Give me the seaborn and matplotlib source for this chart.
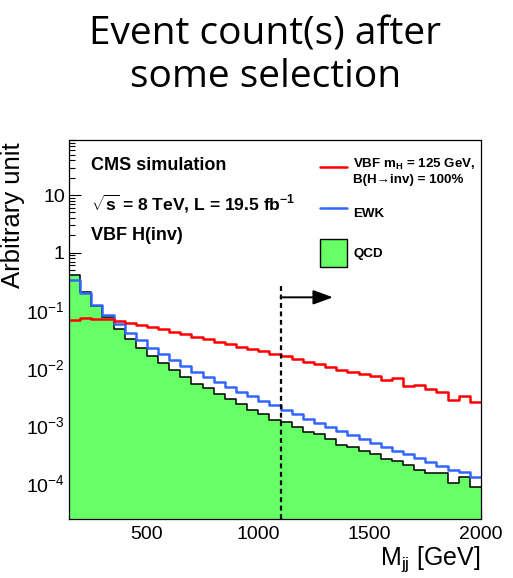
import numpy as np
import pandas as pd
import matplotlib
matplotlib.use("Agg")
import matplotlib.pyplot as plt
import seaborn as sns
from matplotlib.ticker import MultipleLocator, LogLocator, FixedLocator, FuncFormatter, NullFormatter
from matplotlib.lines import Line2D
from matplotlib.patches import Patch

# ---------------- data ----------------
bin_edges = list(range(150, 2001, 50))
bin_centers = [(a + b) / 2 for a, b in zip(bin_edges[:-1], bin_edges[1:])]

qcd = [0.41, 0.207, 0.117, 0.0766, 0.048, 0.032, 0.0226, 0.016, 0.012, 0.0092,
       0.0070, 0.0053, 0.0045, 0.0036, 0.0029, 0.0024, 0.0019, 0.00158, 0.00127,
       0.00117, 0.00095, 0.00078, 0.00071, 0.00058, 0.00046, 0.00043, 0.00037,
       0.00032, 0.00026, 0.00024, 0.00021, 0.000173, 0.000152, 0.000148,
       0.000102, 0.000129, 0.000085]
ewk = [0.33, 0.20, 0.125, 0.084, 0.059, 0.041, 0.030, 0.0226, 0.0178, 0.0136,
       0.0107, 0.0085, 0.0070, 0.0057, 0.0047, 0.0038, 0.0032, 0.0027, 0.0023,
       0.00185, 0.00158, 0.00132, 0.00113, 0.00095, 0.00081, 0.00068, 0.00058,
       0.00049, 0.00043, 0.00036, 0.00032, 0.00027, 0.00023, 0.000197,
       0.000173, 0.000155, 0.000127]
vbf = [0.069, 0.074, 0.0716, 0.070, 0.0645, 0.0612, 0.0565, 0.0514, 0.047, 0.042,
       0.0384, 0.0346, 0.0318, 0.028, 0.0257, 0.0231, 0.0213, 0.0197, 0.0177,
       0.0162, 0.0141, 0.0127, 0.0119, 0.0104, 0.0094, 0.0085, 0.0080, 0.0072,
       0.0063, 0.0066, 0.0049, 0.0050, 0.0044, 0.0039, 0.0028, 0.0032, 0.0026]

y_major_ticks = [1e-4, 1e-3, 1e-2, 1e-1, 1, 10]
series_labels = ["VBF m$_{\\mathbf{H}}$ = 125 GeV,\nB(H\u2192inv) = 100%", "EWK", "QCD"]
cut_value = 1100
arrow_end = 1335
arrow_level = 0.168
cut_top = 0.27

df = pd.DataFrame({"mjj": bin_centers, "qcd": qcd, "ewk": ewk, "vbf": vbf})

# ---------------- style ----------------
sns.set_style("ticks")
plt.rcParams['font.family'] = ['Liberation Sans', 'DejaVu Sans']
plt.rcParams['mathtext.fontset'] = 'custom'
plt.rcParams['mathtext.rm'] = 'Liberation Sans'
plt.rcParams['mathtext.bf'] = 'Liberation Sans:bold'
plt.rcParams['mathtext.it'] = 'Liberation Sans:italic'
plt.rcParams['mathtext.default'] = 'regular'
plt.rcParams['text.color'] = 'black'
plt.rcParams['axes.labelcolor'] = 'black'
plt.rcParams['xtick.color'] = 'black'
plt.rcParams['ytick.color'] = 'black'

GREEN = "#66ff66"
BLUE = "#3366ff"
RED = "#ff0000"

fig = plt.figure(figsize=(5.13, 5.78), dpi=100)
ax = fig.add_axes([69 / 513, 59 / 578, 412 / 513, 379 / 578])
ax.set_yscale('log')

sns.histplot(data=df, x="mjj", weights="qcd", bins=bin_edges, element="step",
             fill=True, color=GREEN, alpha=1, linewidth=0, ax=ax)
sns.histplot(data=df, x="mjj", weights="qcd", bins=bin_edges, element="step",
             fill=False, color="black", linewidth=1.1, ax=ax)
sns.histplot(data=df, x="mjj", weights="ewk", bins=bin_edges, element="step",
             fill=False, color=BLUE, linewidth=1.8, ax=ax)
sns.histplot(data=df, x="mjj", weights="vbf", bins=bin_edges, element="step",
             fill=False, color=RED, linewidth=1.8, ax=ax)

ax.set_xlim(150, 2000)
ax.set_ylim(2.4e-5, 90)

# cut line and arrow
ax.vlines(cut_value, 2.4e-5, cut_top, colors="black", linewidth=1.6,
          linestyles=(0, (2.2, 1.6)), zorder=5)
ax.annotate("", xy=(arrow_end, arrow_level), xytext=(cut_value, arrow_level),
            arrowprops=dict(arrowstyle="-|>,head_length=0.6,head_width=0.22",
                            color="black", lw=1.4, mutation_scale=20,
                            shrinkA=0, shrinkB=0), zorder=6)

# ticks
ax.xaxis.set_major_locator(MultipleLocator(500))
ax.xaxis.set_minor_locator(MultipleLocator(100))
ax.yaxis.set_major_locator(FixedLocator(y_major_ticks))
ax.yaxis.set_minor_locator(LogLocator(base=10, subs=np.arange(2, 10), numticks=20))
ax.yaxis.set_minor_formatter(NullFormatter())


def yfmt(v, pos):
    e = int(round(np.log10(v)))
    if e == 0:
        return "1"
    if e == 1:
        return "10"
    return "10$^{%d}$" % e


ax.yaxis.set_major_formatter(FuncFormatter(yfmt))
ax.tick_params(which='both', direction='in', top=False, right=False,
               width=0.8, colors='black', labelsize=14)
ax.tick_params(which='major', length=8.5, pad=5)
ax.tick_params(axis='y', which='major', pad=3)
ax.tick_params(which='minor', length=4.3)
for s in ax.spines.values():
    s.set_visible(True)
    s.set_linewidth(0.9)
    s.set_color('black')

ax.set_xlabel("M$_{jj}$ [GeV]", loc='right', fontsize=18)
ax.xaxis.set_label_coords(1.0, -0.068)
ax.set_ylabel("Arbitrary unit", loc='top', fontsize=18.5)
ax.yaxis.set_label_coords(-0.108, 0.995)

# in-plot texts
ax.text(0.053, 0.934, "CMS simulation", transform=ax.transAxes, fontsize=13,
        fontweight='bold', va='center', ha='left')
ax.text(0.053, 0.831, r"$\sqrt{\mathbf{s}}$ = 8 TeV, L = 19.5 fb$^{\mathbf{-1}}$",
        transform=ax.transAxes, fontsize=12.6, fontweight='bold', va='center', ha='left')
ax.text(0.053, 0.747, "VBF H(inv)", transform=ax.transAxes, fontsize=13,
        fontweight='bold', va='center', ha='left')

# legend
handles = [Line2D([], [], color=RED, lw=1.8),
           Line2D([], [], color=BLUE, lw=1.8),
           Patch(facecolor=GREEN, edgecolor='black', lw=1.0)]
ax.legend(handles, series_labels, loc='upper left', bbox_to_anchor=(0.609, 0.955),
          frameon=False, prop={'weight': 'bold', 'size': 9.6}, handlelength=2.03,
          handleheight=2.84, handletextpad=0.47, labelspacing=0.95, borderpad=0,
          borderaxespad=0)

# title
fig.text(0.517, 1 - 44 / 578, "Event count(s) after", ha='center', va='baseline',
         fontsize=28, family=['Open Sans', 'DejaVu Sans'])
fig.text(0.517, 1 - 87 / 578, "some selection", ha='center', va='baseline',
         fontsize=28, family=['Open Sans', 'DejaVu Sans'])

fig.savefig("out.png", dpi=100)
